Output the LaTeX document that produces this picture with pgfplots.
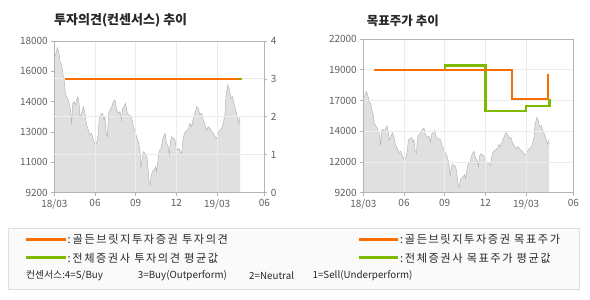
\documentclass[border=0pt]{standalone}
\usepackage{fontspec}
\setmainfont{Noto Sans CJK KR}
\newfontfamily\legfont{Noto Sans CJK KR}[LetterSpace=14]
\usepackage{pgfplots}
\usepackage{pgfplotstable}
\pgfplotsset{compat=1.18}
\definecolor{orn}{RGB}{248,110,0}
\definecolor{grn}{RGB}{125,186,0}
\definecolor{areafill}{RGB}{224,224,224}
\definecolor{areaedge}{RGB}{180,180,180}
\definecolor{gridc}{RGB}{236,236,236}
\definecolor{axisc}{RGB}{180,180,180}
\definecolor{tickc}{RGB}{95,95,95}
\definecolor{titlec}{RGB}{40,40,40}
\definecolor{legbg}{RGB}{250,250,250}
\definecolor{legbd}{RGB}{222,222,222}

\pgfplotstableread{
m p
0.00 17100
0.12 17284
0.22 17613
0.32 17381
0.42 16801
0.54 16607
0.66 15930
0.74 15640
0.81 14963
0.91 14770
1.03 14577
1.15 14190
1.23 13706
1.28 13126
1.35 14383
1.45 14480
1.55 14286
1.65 14577
1.74 14770
1.82 14383
1.89 13610
2.01 13803
2.14 14190
2.26 13803
2.38 13126
2.51 12836
2.63 12546
2.75 12643
2.87 12256
3.00 11966
3.12 12062
3.24 12643
3.32 13610
3.42 13706
3.56 13803
3.66 13416
3.73 13610
3.81 12739
3.91 12449
4.00 13803
4.10 13996
4.23 14190
4.35 14480
4.47 14577
4.59 13996
4.72 13803
4.84 13900
4.94 13416
5.04 14093
5.14 14190
5.26 14383
5.38 13803
5.53 13706
5.68 13610
5.82 13029
5.95 12739
6.07 12449
6.19 12159
6.31 11676
6.39 10612
6.46 11095
6.56 11579
6.68 11482
6.81 11385
6.90 10709
6.98 9838
7.05 9645
7.13 10128
7.22 10418
7.35 10515
7.47 10709
7.54 10418
7.67 11289
7.74 11676
7.84 11676
7.94 12062
8.03 12449
8.16 12643
8.28 12062
8.40 11869
8.48 11385
8.57 12256
8.67 12449
8.77 12352
8.89 12256
8.97 11869
9.09 11676
9.19 11772
9.29 11579
9.39 11482
9.46 12159
9.56 12546
9.66 12739
9.75 12739
9.90 12933
10.00 13223
10.12 13029
10.25 13513
10.37 13803
10.49 14190
10.61 14093
10.74 13706
10.86 13803
10.98 13416
11.11 13126
11.23 12836
11.35 13029
11.47 12933
11.60 12739
11.72 12643
11.84 12449
11.97 12352
12.09 12643
12.21 12836
12.33 12933
12.46 13223
12.58 13803
12.65 14770
12.78 15447
12.90 15157
13.02 14673
13.14 14770
13.24 14383
13.37 13996
13.49 13610
13.59 13223
13.69 13610
}\price

\pgfplotsset{
  base/.style={
    scale only axis, width=210pt,
    xmin=0, xmax=15.48,
    scaled y ticks=false, scaled x ticks=false,
    axis line style={axisc, line width=0.8pt},
    tick style={axisc, line width=0.8pt},
    major tick length=3pt, tick align=outside,
    tick label style={font=\fontsize{10}{12}\selectfont, text=tickc},
    major grid style={gridc, line width=0.9pt},
    /pgf/number format/assume math mode=true,
  },
  xaxis/.style={
    xtick={3,6,9,12}, xticklabels={06,09,12,19/03},
    extra x ticks={0,15.48}, extra x tick labels={18/03,06},
    extra x tick style={grid=none},
    xmajorgrids, tick pos=left,
  },
}

\begin{document}
\begin{tikzpicture}
\useasboundingbox (0pt,0pt) rectangle (590pt,300pt);

% ---------- left chart: price area ----------
\begin{axis}[base, xaxis, at={(54.33pt,259pt)}, anchor=north west, height=151.7pt,
  ymin=9200, ymax=18000,
  ytick={9200,10960,12720,14480,16240,18000},
  yticklabels={9200,11000,13000,14000,16000,18000},
  axis on top]
\addplot[draw=none, fill=areafill] table[x=m,y=p] {\price} \closedcycle;
\addplot[areaedge, line width=0.5pt] table[x=m,y=p] {\price};
\end{axis}

% ---------- left chart: opinion ----------
\begin{axis}[base, at={(54.33pt,259pt)}, anchor=north west, height=151.7pt,
  ymin=0, ymax=4, axis x line=none, axis y line*=right,
  ytick={1,2,3}, yticklabels={1,2,3},
  extra y ticks={0,4}, extra y tick labels={0,4},
  extra y tick style={grid=none},
  ymajorgrids]
\addplot[grn, line width=2.4pt] coordinates {(0.79,3) (13.83,3)};
\addplot[orn, line width=2.4pt] coordinates {(0.79,3) (13.63,3)};
\end{axis}

% ---------- right chart: price area ----------
\begin{axis}[base, xaxis, at={(363.33pt,261pt)}, anchor=north west, height=153.7pt,
  ymin=9200, ymax=22000,
  ytick={11760,14320,16880,19440},
  yticklabels={12000,14000,17000,19000},
  extra y ticks={9200,22000}, extra y tick labels={9200,22000},
  extra y tick style={grid=none},
  ymajorgrids, axis on top]
\addplot[draw=none, fill=areafill] table[x=m,y=p] {\price} \closedcycle;
\addplot[areaedge, line width=0.5pt] table[x=m,y=p] {\price};
\end{axis}

% ---------- right chart: target prices ----------
\begin{axis}[base, at={(363.33pt,261pt)}, anchor=north west, height=153.7pt,
  ymin=9200, ymax=22000, hide axis]
\addplot[grn, line width=2.2pt, line join=miter] coordinates {
  (6.0,19440) (6.0,19800) (9.0,19800) (9.0,16030) (12.0,16030)
  (12.0,16420) (13.72,16420) (13.72,17030)};
\addplot[orn, line width=2.2pt, line join=miter] coordinates {
  (0.8,19440) (10.93,19440) (10.93,17000) (13.6,17000) (13.6,19100)};
\end{axis}

% ---------- titles ----------
\node[anchor=west, inner sep=0, font=\fontsize{13}{15}\selectfont\bfseries, text=titlec]
  at (54pt,279.5pt) {투자의견(컨센서스) 추이};
\node[anchor=west, inner sep=0, font=\fontsize{12.5}{15}\selectfont\bfseries, text=titlec]
  at (366.7pt,279.5pt) {목표주가 추이};

% ---------- legend ----------
\draw[fill=legbg, draw=legbd, line width=0.8pt] (8pt,11pt) rectangle (579pt,72pt);
\draw[orn, line width=3pt] (26pt,60.3pt) -- (66pt,60.3pt);
\draw[grn, line width=3pt] (26pt,42pt) -- (66pt,42pt);
\draw[orn, line width=3pt] (358.5pt,60.3pt) -- (398pt,60.3pt);
\draw[grn, line width=3pt] (358.5pt,42pt) -- (398pt,42pt);
\begin{scope}[every node/.style={anchor=west, inner sep=0, text=titlec, font=\legfont\fontsize{11.2}{13}\selectfont}]
\node at (67.5pt,60.3pt) {:\,골든브릿지투자증권 투자의견};
\node at (67.5pt,42pt) {:전체증권사 투자의견 평균값};
\node at (400pt,60.3pt) {:골든브릿지투자증권 목표주가};
\node at (400pt,42pt) {:전체증권사 목표주가 평균값};
\end{scope}
\begin{scope}[every node/.style={anchor=west, inner sep=0, text=titlec, font=\fontsize{9.8}{11}\selectfont}]
\node at (26pt,24.7pt) {컨센서스:4=S/Buy};
\node at (137.7pt,24.7pt) {3=Buy(Outperform)};
\node at (249pt,24.7pt) {2=Neutral};
\node at (312.4pt,24.7pt) {1=Sell(Underperform)};
\end{scope}
\end{tikzpicture}
\end{document}
